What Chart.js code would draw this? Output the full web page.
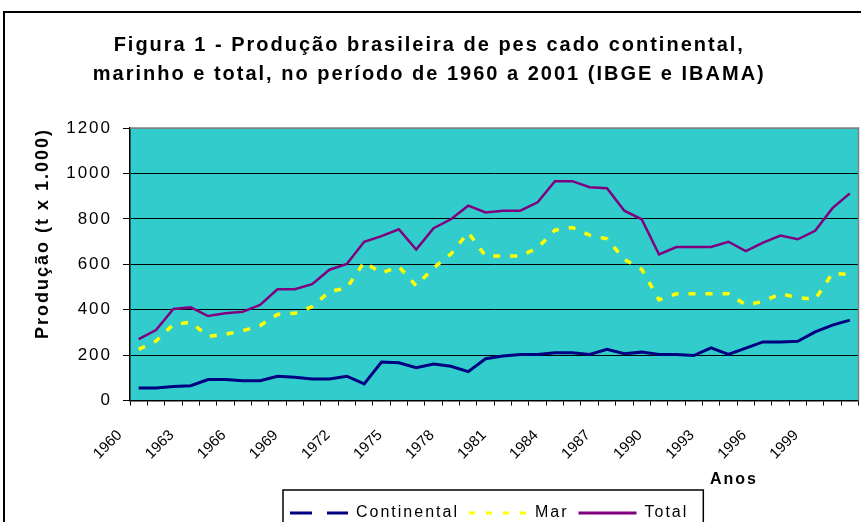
<!DOCTYPE html>
<html>
<head>
<meta charset="utf-8">
<script src="https://cdn.jsdelivr.net/npm/chart.js@4.4.1/dist/chart.umd.min.js"></script>
<style>
  html, body { margin: 0; padding: 0; background: #fff; }
  #wrap { width: 861px; height: 522px; }
</style>
</head>
<body>
<div id="wrap"><canvas id="pescado"></canvas></div>
<script>
// anos 1960 - 2001
const anos = ['1960','1961','1962','1963','1964','1965','1966','1967','1968','1969',
  '1970','1971','1972','1973','1974','1975','1976','1977','1978','1979',
  '1980','1981','1982','1983','1984','1985','1986','1987','1988','1989',
  '1990','1991','1992','1993','1994','1995','1996','1997','1998','1999',
  '2000','2001'];

// producao em t x 1.000
const continental = [55, 55, 62, 65, 92, 92, 87, 87, 107, 102,
  95, 95, 107, 73, 169, 166, 144, 161, 151, 127,
  184, 196, 203, 203, 210, 210, 203, 225, 206, 213,
  203, 203, 198, 232, 203, 231, 258, 258, 261, 302,
  332, 354];
const mar = [225, 262, 335, 345, 282, 292, 307, 330, 379, 384,
  413, 480, 495, 610, 561, 590, 505, 584, 645, 740,
  636, 636, 636, 672, 750, 762, 728, 712, 621, 578,
  443, 470, 470, 470, 470, 421, 436, 470, 453, 445,
  561, 554];
const total = [270, 310, 403, 410, 372, 384, 391, 421, 490, 490,
  512, 576, 601, 699, 724, 754, 665, 759, 798, 858,
  828, 836, 836, 873, 966, 966, 939, 935, 836, 798,
  643, 676, 676, 676, 699, 658, 695, 726, 710, 747,
  847, 912];

const yTicks = [0, 200, 400, 600, 800, 1000, 1200];

Chart.defaults.font.family = '"Liberation Sans", Arial, sans-serif';
Chart.defaults.color = '#000';

// onde a legenda comeca e o padding dela
const LEG_X = 290;
const LEG_PAD = 10;

function legendRow(lg) {
  const lw = lg.lineWidths[0];
  const start = (lg.left + LEG_PAD + lg.right - lw) / 2;
  return { start: start, end: start + lw - LEG_PAD, top: lg.top + LEG_PAD };
}

// fundo, moldura e espacamento das letras
const moldura = {
  id: 'moldura',
  beforeUpdate(chart) { chart.ctx.letterSpacing = '2px'; },
  afterLayout(chart) {
    const lg = chart.legend;
    const shift = LEG_X - legendRow(lg).start;
    lg.left += shift;
    lg.right += shift;
    // rotulos inclinados do eixo x sem espacamento extra
    const sx = chart.scales.x;
    if (!sx._semEspaco) {
      const orig = sx.drawLabels;
      sx.drawLabels = function (area) {
        const ctx = this.ctx;
        const prev = ctx.letterSpacing;
        ctx.letterSpacing = '0px';
        orig.call(this, area);
        ctx.letterSpacing = prev;
      };
      sx._semEspaco = true;
    }
  },
  beforeDraw(chart) {
    const ctx = chart.ctx;
    ctx.letterSpacing = '2px';
    const a = chart.chartArea;
    ctx.save();
    ctx.fillStyle = '#33CCCC';
    ctx.fillRect(a.left, a.top, a.right - a.left, a.bottom - a.top);
    ctx.strokeStyle = '#000';
    ctx.lineWidth = 2;
    ctx.strokeRect(4, 12, 900, 600);
    ctx.restore();
  },
  beforeDatasetsDraw(chart) {
    const ctx = chart.ctx;
    const a = chart.chartArea;
    ctx.save();
    ctx.strokeStyle = '#808080';
    ctx.lineWidth = 1.5;
    ctx.beginPath();
    ctx.moveTo(a.left, a.top);
    ctx.lineTo(a.right, a.top);
    ctx.lineTo(a.right, a.bottom);
    ctx.stroke();
    ctx.restore();
  },
  afterDraw(chart) {
    const ctx = chart.ctx;
    const row = legendRow(chart.legend);
    ctx.save();
    // caixa da legenda
    ctx.strokeStyle = '#000';
    ctx.lineWidth = 1.5;
    ctx.strokeRect(row.start - 7, row.top - 15, row.end - row.start + 22, 80);
    // titulo do eixo x
    ctx.fillStyle = '#000';
    ctx.font = 'bold 16px "Liberation Sans", Arial, sans-serif';
    ctx.textAlign = 'center';
    ctx.textBaseline = 'middle';
    ctx.fillText('Anos', 734, 480);
    ctx.restore();
  }
};

new Chart(document.getElementById('pescado'), {
  type: 'line',
  data: {
    labels: anos,
    datasets: [
      {
        label: 'Continental',
        data: continental,
        borderColor: '#000080',
        backgroundColor: '#000080',
        borderWidth: 3,
        pointRadius: 0,
        tension: 0
      },
      {
        label: 'Mar',
        data: mar,
        borderColor: '#FFFF00',
        backgroundColor: '#FFFF00',
        borderWidth: 3.5,
        borderDash: [7, 10],
        pointRadius: 0,
        tension: 0
      },
      {
        label: 'Total',
        data: total,
        borderColor: '#800080',
        backgroundColor: '#800080',
        borderWidth: 2.5,
        pointRadius: 0,
        tension: 0
      }
    ]
  },
  options: {
    responsive: true,
    maintainAspectRatio: false,
    animation: false,
    events: [],
    layout: { padding: { left: 0, right: 2.5, top: 0, bottom: -9 } },
    plugins: {
      title: {
        display: true,
        text: ['Figura 1 - Produção brasileira de pes cado continental,',
               'marinho e total, no período de 1960 a 2001 (IBGE e IBAMA)'],
        color: '#000',
        font: { size: 20, weight: 'bold', lineHeight: 1.45 },
        padding: { top: 31, bottom: 39 }
      },
      legend: {
        position: 'bottom',
        labels: {
          usePointStyle: true,
          pointStyle: 'line',
          pointStyleWidth: 58,
          padding: LEG_PAD,
          color: '#000',
          font: { size: 16 },
          generateLabels(chart) {
            const items = Chart.defaults.plugins.legend.labels.generateLabels(chart);
            items[0].lineDash = [22, 15];
            items[1].lineDash = [6, 11];
            items.forEach(it => { it.lineWidth = 3; });
            return items;
          }
        }
      },
      tooltip: { enabled: false }
    },
    scales: {
      x: {
        offset: true,
        grid: { offset: true, drawOnChartArea: false, tickLength: 5, color: '#000' },
        border: { color: '#000', width: 1.5 },
        ticks: {
          autoSkip: false,
          minRotation: 45,
          maxRotation: 45,
          padding: 21,
          labelOffset: -19,
          font: { size: 15 },
          color: '#000',
          callback(value, index) {
            return index % 3 === 0 ? this.getLabelForValue(value) : '';
          }
        },
        afterFit(scale) {
          scale.height = 94.5;
          scale.paddingLeft = 0;
          scale.paddingRight = 0;
        }
      },
      y: {
        min: yTicks[0],
        max: yTicks[yTicks.length - 1],
        afterBuildTicks(scale) { scale.ticks = yTicks.map(v => ({ value: v })); },
        grid: {
          color: ctx => (ctx.tick && ctx.tick.value === 1200 ? '#808080' : '#000'),
          tickColor: '#000',
          tickLength: 7,
          lineWidth: 1
        },
        border: { color: '#000', width: 1.5 },
        ticks: {
          padding: 11,
          font: { size: 17 },
          color: '#000',
          callback: v => String(v)
        },
        title: {
          display: true,
          text: 'Produção (t x 1.000)',
          align: 'end',
          color: '#000',
          font: { size: 18, weight: 'bold' },
          padding: { top: 32 }
        },
        afterFit(scale) { scale.width = 130; }
      }
    }
  },
  plugins: [moldura]
});
</script>
</body>
</html>
